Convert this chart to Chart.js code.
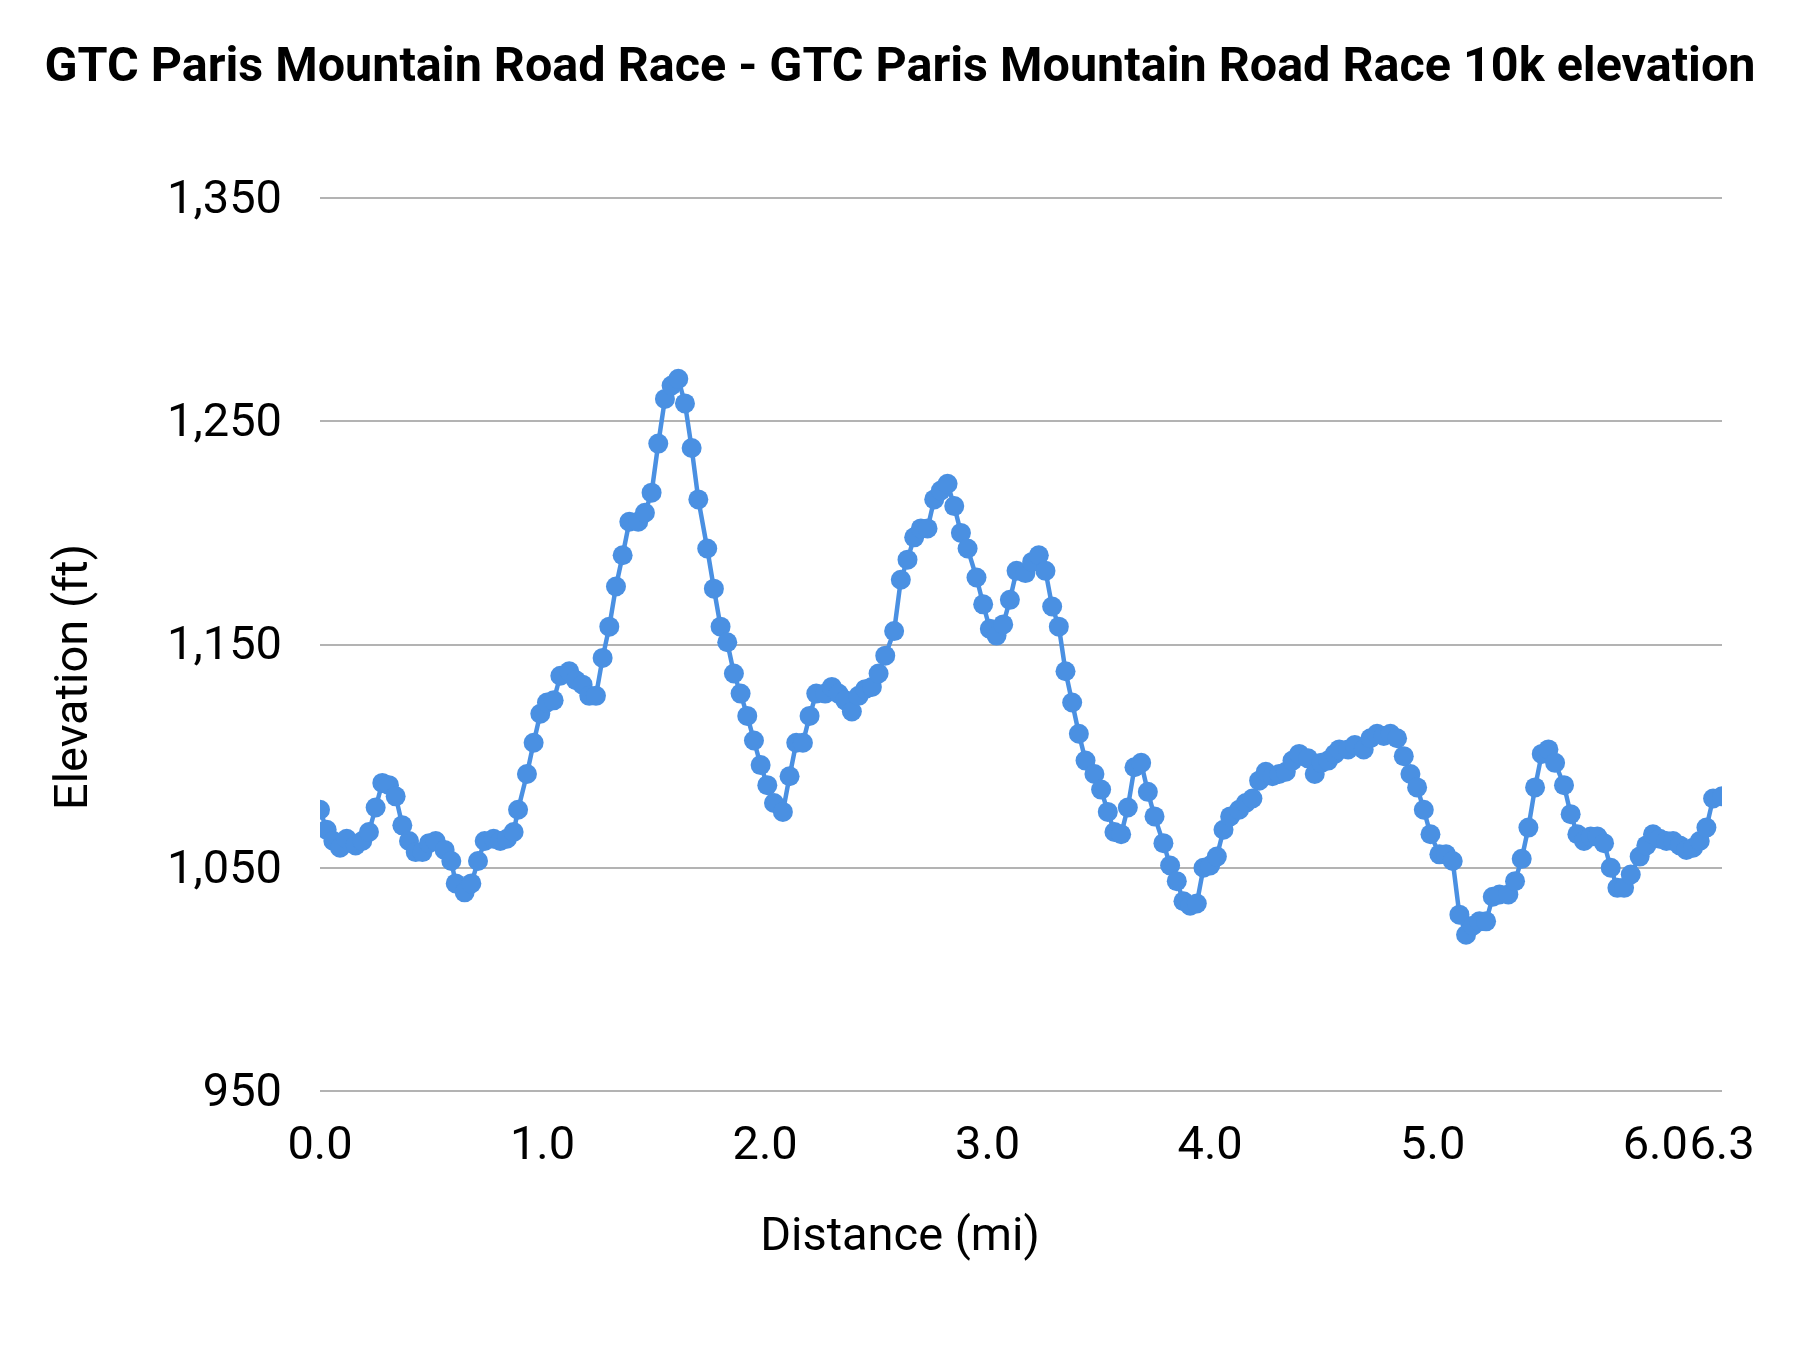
<!DOCTYPE html>
<html>
<head>
<meta charset="utf-8">
<script src="https://cdn.jsdelivr.net/npm/chart.js@4.4.1/dist/chart.umd.min.js"></script>
<style>
  html, body { margin: 0; padding: 0; background: #fff; }
  canvas { display: block; }
</style>
</head>
<body>
<canvas id="elevationChart" width="1800" height="1350"></canvas>
<script>
// Elevation profile
const distances = [
  0.00, 0.03, 0.06, 0.09, 0.12, 0.16, 0.19, 0.22, 0.25, 0.28,
  0.31, 0.34, 0.37, 0.40, 0.43, 0.46, 0.49, 0.52, 0.56, 0.59,
  0.61, 0.65, 0.68, 0.71, 0.74, 0.78, 0.81, 0.84, 0.87, 0.89,
  0.93, 0.96, 0.99, 1.02, 1.05, 1.08, 1.12, 1.15, 1.18, 1.21,
  1.24, 1.27, 1.30, 1.33, 1.36, 1.39, 1.43, 1.46, 1.49, 1.52,
  1.55, 1.58, 1.61, 1.64, 1.67, 1.70, 1.74, 1.77, 1.80, 1.83,
  1.86, 1.89, 1.92, 1.95, 1.98, 2.01, 2.04, 2.08, 2.11, 2.14,
  2.17, 2.20, 2.23, 2.27, 2.30, 2.33, 2.36, 2.39, 2.42, 2.45,
  2.48, 2.51, 2.54, 2.58, 2.61, 2.64, 2.67, 2.70, 2.73, 2.76,
  2.79, 2.82, 2.85, 2.88, 2.91, 2.95, 2.98, 3.01, 3.04, 3.07,
  3.10, 3.13, 3.17, 3.20, 3.23, 3.26, 3.29, 3.32, 3.35, 3.38,
  3.41, 3.44, 3.48, 3.51, 3.54, 3.57, 3.60, 3.63, 3.66, 3.69,
  3.72, 3.75, 3.79, 3.82, 3.85, 3.88, 3.91, 3.94, 3.97, 4.00,
  4.03, 4.06, 4.09, 4.13, 4.16, 4.19, 4.22, 4.25, 4.28, 4.31,
  4.34, 4.37, 4.40, 4.44, 4.47, 4.50, 4.53, 4.56, 4.58, 4.62,
  4.65, 4.69, 4.72, 4.75, 4.78, 4.81, 4.84, 4.87, 4.90, 4.93,
  4.96, 4.99, 5.03, 5.06, 5.09, 5.12, 5.15, 5.18, 5.21, 5.24,
  5.27, 5.30, 5.34, 5.37, 5.40, 5.43, 5.46, 5.49, 5.52, 5.55,
  5.59, 5.62, 5.65, 5.68, 5.71, 5.74, 5.77, 5.80, 5.83, 5.86,
  5.89, 5.93, 5.96, 5.99, 6.02, 6.05, 6.08, 6.11, 6.14, 6.17,
  6.20, 6.23, 6.26, 6.30
];

const elevations = [
  1076, 1067, 1062, 1059, 1063, 1060, 1062, 1066, 1077, 1088,
  1087, 1082, 1069, 1062, 1057, 1057, 1061, 1062, 1058, 1053,
  1043, 1039, 1043, 1053, 1062, 1063, 1062, 1063, 1066, 1076,
  1092, 1106, 1119, 1124, 1125, 1136, 1138, 1134, 1132, 1127,
  1127, 1144, 1158, 1176, 1190, 1205, 1205, 1209, 1218, 1240,
  1260, 1266, 1269, 1258, 1238, 1215, 1193, 1175, 1158, 1151,
  1137, 1128, 1118, 1107, 1096, 1087, 1079, 1075, 1091, 1106,
  1106, 1118, 1128, 1128, 1131, 1128, 1125, 1120, 1127, 1130,
  1131, 1137, 1145, 1156, 1179, 1188, 1198, 1202, 1202, 1215,
  1219, 1222, 1212, 1200, 1193, 1180, 1168, 1157, 1154, 1159,
  1170, 1183, 1182, 1187, 1190, 1183, 1167, 1158, 1138, 1124,
  1110, 1098, 1092, 1085, 1075, 1066, 1065, 1077, 1095, 1097,
  1084, 1073, 1061, 1051, 1044, 1035, 1033, 1034, 1050, 1051,
  1055, 1067, 1073, 1076, 1079, 1081, 1089, 1093, 1091, 1092,
  1093, 1098, 1101, 1099, 1092, 1097, 1098, 1101, 1103, 1103,
  1105, 1103, 1108, 1110, 1109, 1110, 1108, 1100, 1092, 1086,
  1076, 1065, 1056, 1056, 1053, 1029, 1020, 1024, 1026, 1026,
  1037, 1038, 1038, 1044, 1054, 1068, 1086, 1101, 1103, 1097,
  1087, 1074, 1065, 1062, 1064, 1064, 1061, 1050, 1041, 1041,
  1047, 1055, 1060, 1065, 1063, 1062, 1062, 1060, 1058, 1059,
  1062, 1068, 1081, 1082
];

const xTicks = [0, 1, 2, 3, 4, 5, 6, 6.3];
const yTicks = [950, 1050, 1150, 1250, 1350];

const chartTitle = "GTC Paris Mountain Road Race - GTC Paris Mountain Road Race 10k elevation";
const xTitle = "Distance (mi)";
const yTitle = "Elevation (ft)";

const points = distances.map((d, i) => ({ x: d, y: elevations[i] }));

// title and axis titles drawn by hand, centred on the whole canvas like the original
const textPlugin = {
  id: "chartTexts",
  afterDraw(chart) {
    const ctx = chart.ctx;
    ctx.save();
    ctx.fillStyle = "#000";
    ctx.textAlign = "center";
    ctx.textBaseline = "middle";

    ctx.font = "bold 48.5px Roboto";
    ctx.fillText(chartTitle, 900, 69);

    ctx.font = "47px Roboto";
    ctx.fillText(xTitle, 900, 1238);

    ctx.translate(75, 677);
    ctx.rotate(-Math.PI / 2);
    ctx.fillText(yTitle, 0, 0);
    ctx.restore();
  }
};

const ctx = document.getElementById("elevationChart").getContext("2d");

new Chart(ctx, {
  type: "line",
  data: {
    datasets: [
      {
        data: points,
        borderColor: "#4a90e2",
        backgroundColor: "#4a90e2",
        borderWidth: 4.5,
        pointRadius: 10,
        pointBorderWidth: 0,
        pointBackgroundColor: "#4a90e2",
        tension: 0,
      },
    ],
  },
  options: {
    responsive: false,
    animation: false,
    devicePixelRatio: 1,
    layout: {
      padding: { top: 198, right: 78, bottom: 0, left: 0 },
    },
    plugins: {
      legend: { display: false },
      title: { display: false },
      tooltip: { enabled: false },
    },
    scales: {
      x: {
        type: "linear",
        min: 0,
        max: 6.3,
        afterFit(scale) { scale.height = 259; },
        afterBuildTicks(scale) { scale.ticks = xTicks.map((v) => ({ value: v })); },
        grid: { display: false, drawTicks: false },
        border: { display: false },
        ticks: {
          autoSkip: false,
          maxRotation: 0,
          padding: 28,
          color: "#000",
          font: { family: "Roboto", size: 47 },
          callback: (v) => Number(v).toFixed(1),
        },
      },
      y: {
        min: 950,
        max: 1350,
        afterFit(scale) { scale.width = 320; },
        afterBuildTicks(scale) { scale.ticks = yTicks.map((v) => ({ value: v })); },
        grid: { color: "#b3b3b3", lineWidth: 2, drawTicks: false },
        border: { display: false },
        ticks: {
          padding: 38,
          labelOffset: 3,
          color: "#000",
          font: { family: "Roboto", size: 47 },
          callback: (v) => v.toLocaleString("en-US"),
        },
      },
    },
  },
  plugins: [textPlugin],
});
</script>
</body>
</html>
